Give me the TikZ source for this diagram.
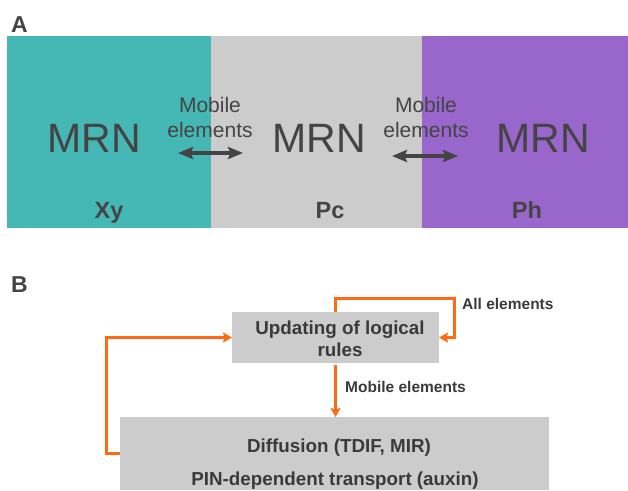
\documentclass[tikz,border=0pt]{standalone}
\usepackage{fontspec}
\setmainfont{Liberation Sans}
\usetikzlibrary{arrows.meta}

\definecolor{xycol}{HTML}{45B8B6}
\definecolor{pccol}{HTML}{CCCCCC}
\definecolor{phcol}{HTML}{9966CC}
\definecolor{inkgray}{HTML}{444444}
\definecolor{boxgray}{HTML}{CCCCCC}
\definecolor{flowor}{HTML}{FF6A13}

\begin{document}
\begin{tikzpicture}[x=1pt,y=-1pt,
  band/.style={draw=none,inner sep=0pt,outer sep=0pt,anchor=north west,minimum height=192pt},
  mrn/.style={text=inkgray,inner sep=0pt,anchor=base,font=\fontsize{41}{41}\selectfont},
  mobtxt/.style={text=inkgray,inner sep=0pt,align=center,font=\fontsize{21}{25}\selectfont},
  tissue/.style={text=inkgray,inner sep=0pt,anchor=base,font=\bfseries\fontsize{23.5}{24}\selectfont},
  panel/.style={text=inkgray,inner sep=0pt,anchor=base west,font=\bfseries\fontsize{23}{24}\selectfont},
  mobarrow/.style={draw=inkgray,line width=3.2pt,{Stealth[length=15pt,width=12pt,inset=2.5pt]}-{Stealth[length=15pt,width=12pt,inset=2.5pt]}},
  procbox/.style={fill=boxgray,draw=none,inner sep=0pt,outer sep=0pt},
  proctxt/.style={text=inkgray!85!black,inner sep=0pt,align=center,font=\bfseries\fontsize{18.8}{22}\selectfont},
  flowlbl/.style={text=inkgray!85!black,inner sep=0pt,anchor=base west,font=\bfseries\fontsize{15.5}{18}\selectfont},
  flow/.style={draw=flowor,line width=3pt,-{Stealth[length=9pt,width=10pt,inset=1.5pt]}}
]
\useasboundingbox (0,0) rectangle (628,490);

% ---- panel A: three tissues, each with its own network
\node[panel] (pa) at (11,32) {A};
\node[band,fill=xycol,minimum width=204pt] (xy) at (7,36) {};
\node[band,fill=pccol,minimum width=211pt] (pc) at (211,36) {};
\node[band,fill=phcol,minimum width=206pt] (ph) at (422,36) {};

\node[mrn] (mrnxy) at (94,152) {MRN};
\node[mrn] (mrnpc) at (319,152) {MRN};
\node[mrn] (mrnph) at (543,152) {MRN};

\node[mobtxt] (mob1) at (210,117) {Mobile\\elements};
\node[mobtxt] (mob2) at (426,117) {Mobile\\elements};

\coordinate (m1l) at (178,153);
\coordinate (m1r) at (243,153);
\coordinate (m2l) at (392,156);
\coordinate (m2r) at (458,156);
\draw[mobarrow] (m1l) -- (m1r);
\draw[mobarrow] (m2l) -- (m2r);

\node[tissue] (lxy) at (109,218) {Xy};
\node[tissue] (lpc) at (330,218) {Pc};
\node[tissue] (lph) at (527,218) {Ph};

% ---- panel B: update cycle
\node[panel] (pb) at (11,292) {B};

\node[procbox,minimum width=207pt,minimum height=51pt] (upd) at (335.5,337.5) {};
\node[proctxt] (updtxt) at (340,339) {Updating of logical\\rules};

\node[procbox,minimum width=429pt,minimum height=73pt] (dif) at (334.5,453.5) {};
\node[proctxt,anchor=base] (dif1) at (339,452) {Diffusion (TDIF, MIR)};
\node[proctxt,anchor=base] (dif2) at (335,485) {PIN-dependent transport (auxin)};

\draw[flow] (upd.north) -- ++(0,-14) -| ([xshift=15pt]upd.east) -- (upd.east);
\node[flowlbl] (lall) at (462,309) {All elements};

\draw[flow,shorten <=2pt] (upd.south) -- (upd.south |- dif.north);
\node[flowlbl] (lmob) at (345,392) {Mobile elements};

\draw[flow] (dif.west) -- ++(-14pt,0) |- (upd.west);
\end{tikzpicture}
\end{document}
